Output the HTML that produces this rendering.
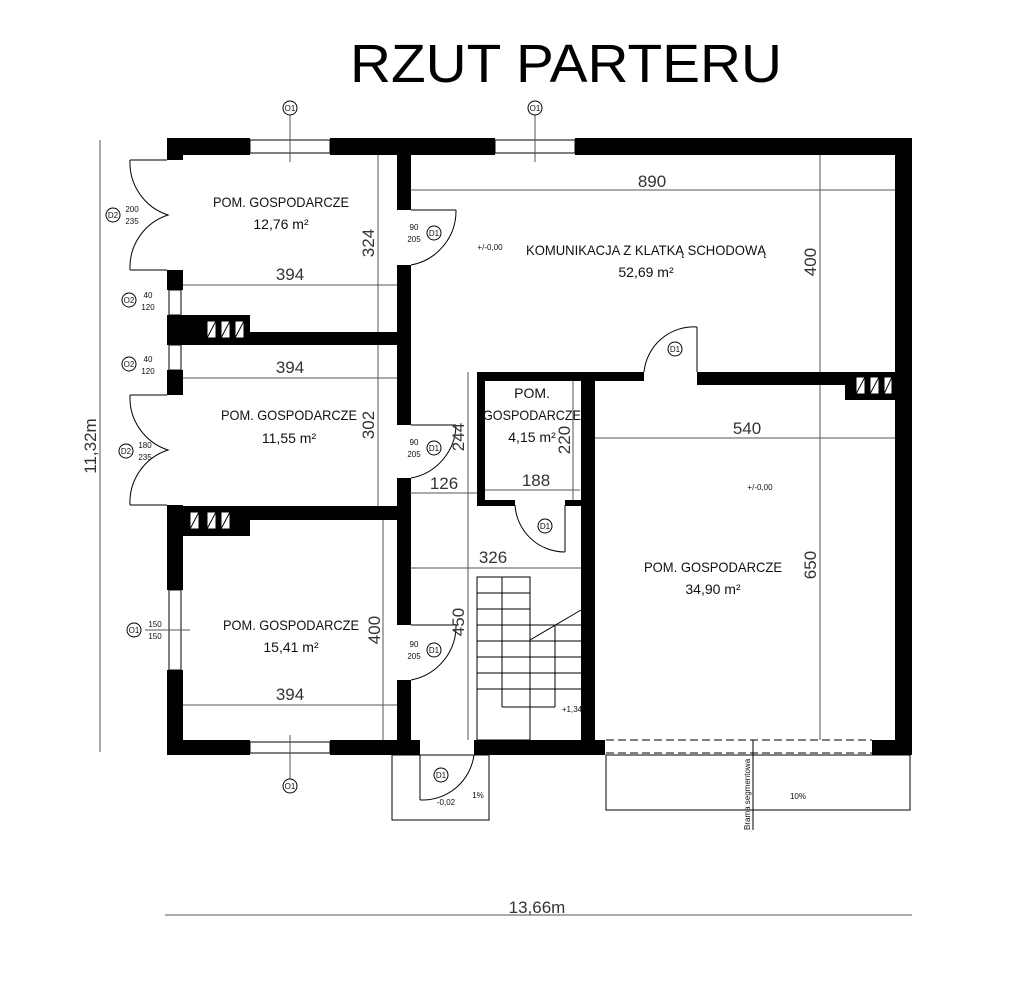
<!DOCTYPE html>
<html><head><meta charset="utf-8"><style>
html,body{margin:0;padding:0;background:#fff;}
svg{display:block;font-family:"Liberation Sans",sans-serif;}
.t{font-size:14px;fill:#111;}
.d{font-size:17px;fill:#333;}
.s{font-size:8px;fill:#111;}
</style></head><body>
<svg width="1032" height="991" viewBox="0 0 1032 991" xmlns="http://www.w3.org/2000/svg">
<text x="566" y="82" font-size="54" text-anchor="middle" fill="#000" textLength="432" lengthAdjust="spacingAndGlyphs">RZUT PARTERU</text>

<g fill="#000">
<rect x="167" y="138" width="83" height="17"/>
<rect x="330" y="138" width="165" height="17"/>
<rect x="575" y="138" width="337" height="17"/>
<rect x="895" y="138" width="17" height="615"/>
<rect x="167" y="138" width="16" height="22"/>
<rect x="167" y="270" width="16" height="20"/>
<rect x="167" y="315" width="16" height="30"/>
<rect x="167" y="370" width="16" height="25"/>
<rect x="167" y="505" width="16" height="85"/>
<rect x="167" y="670" width="16" height="85"/>
<rect x="167" y="315" width="83" height="30"/>
<rect x="183" y="332" width="227" height="13"/>
<rect x="167" y="506" width="83" height="30"/>
<rect x="183" y="506" width="227" height="14"/>
<rect x="397" y="155" width="14" height="55"/>
<rect x="397" y="265" width="14" height="160"/>
<rect x="397" y="478" width="14" height="147"/>
<rect x="397" y="680" width="14" height="75"/>
<rect x="167" y="740" width="83" height="15"/>
<rect x="330" y="740" width="90" height="15"/>
<rect x="474" y="740" width="131" height="15"/>
<rect x="872" y="740" width="40" height="15"/>
<rect x="477" y="372" width="8" height="134"/>
<rect x="477" y="372" width="167" height="9"/>
<rect x="477" y="500" width="38" height="6"/>
<rect x="565" y="500" width="17" height="6"/>
<rect x="697" y="372" width="198" height="13"/>
<rect x="581" y="378" width="14" height="375"/>
<rect x="845" y="372" width="50" height="28"/>
</g>

<g fill="#fff" stroke="#000" stroke-width="1">
<rect x="207" y="321" width="9" height="17"/><rect x="221" y="321" width="9" height="17"/><rect x="235" y="321" width="9" height="17"/>
<rect x="190" y="512" width="9" height="17"/><rect x="207" y="512" width="9" height="17"/><rect x="221" y="512" width="9" height="17"/>
<rect x="856" y="377" width="9" height="17"/><rect x="870" y="377" width="9" height="17"/><rect x="884" y="377" width="8" height="17"/>
</g>
<g stroke="#000" stroke-width="1">
<line x1="207" y1="338" x2="216" y2="321"/><line x1="221" y1="338" x2="230" y2="321"/><line x1="235" y1="338" x2="244" y2="321"/>
<line x1="190" y1="529" x2="199" y2="512"/><line x1="207" y1="529" x2="216" y2="512"/><line x1="221" y1="529" x2="230" y2="512"/>
<line x1="856" y1="394" x2="865" y2="377"/><line x1="870" y1="394" x2="879" y2="377"/><line x1="884" y1="394" x2="892" y2="377"/>
</g>

<g fill="#fff" stroke="#000" stroke-width="1">
<rect x="250" y="140" width="80" height="13"/><rect x="495" y="140" width="80" height="13"/>
<rect x="250" y="742" width="80" height="11"/>
<rect x="169" y="590" width="12" height="80"/>
<rect x="169" y="290" width="12" height="25"/><rect x="169" y="345" width="12" height="25"/>
</g>
<g stroke="#000" stroke-width="1" fill="none" stroke-dasharray="8,4">
<line x1="606" y1="740" x2="872" y2="740"/><line x1="606" y1="753" x2="872" y2="753"/>
</g>

<g stroke="#000" stroke-width="1" fill="none">
<line x1="130" y1="160" x2="167" y2="160"/><line x1="130" y1="270" x2="167" y2="270"/>
<path d="M130,160 A55,55 0 0 0 168,215 A55,55 0 0 0 130,270"/>
<line x1="130" y1="395" x2="167" y2="395"/><line x1="130" y1="505" x2="167" y2="505"/>
<path d="M130,395 A55,55 0 0 0 168,450 A55,55 0 0 0 130,505"/>
<line x1="411" y1="210" x2="456" y2="210"/><path d="M456,210 A55,55 0 0 1 411,265"/>
<line x1="411" y1="425" x2="456" y2="425"/><path d="M456,425 A55,55 0 0 1 411,478"/>
<line x1="411" y1="625" x2="456" y2="625"/><path d="M456,625 A55,55 0 0 1 411,680"/>
<line x1="697" y1="327" x2="697" y2="372"/><path d="M697,327 A50,50 0 0 0 644,372"/>
<line x1="565" y1="505" x2="565" y2="552"/><path d="M515,505 A50,50 0 0 0 565,552"/>
<line x1="420" y1="755" x2="420" y2="800"/><path d="M474,755 A52,52 0 0 1 420,800"/>
<rect x="392" y="755" width="97" height="65"/>
<rect x="606" y="755" width="304" height="55"/>
<line x1="753" y1="740" x2="753" y2="830"/>
<rect x="477" y="577" width="53" height="163"/>
<line x1="502" y1="577" x2="502" y2="707"/><line x1="502" y1="707" x2="555" y2="707"/><line x1="555" y1="707" x2="555" y2="625"/>
<line x1="530" y1="640" x2="581" y2="610"/>
</g>
<g stroke="#000" stroke-width="1">
<line x1="477" y1="593" x2="530" y2="593"/><line x1="477" y1="609" x2="530" y2="609"/><line x1="477" y1="625" x2="530" y2="625"/>
<line x1="477" y1="641" x2="581" y2="641"/><line x1="477" y1="657" x2="581" y2="657"/><line x1="477" y1="673" x2="581" y2="673"/>
<line x1="477" y1="689" x2="581" y2="689"/><line x1="530" y1="625" x2="581" y2="625"/>
</g>

<g stroke="#555" stroke-width="1">
<line x1="410" y1="190" x2="895" y2="190"/>
<line x1="820" y1="155" x2="820" y2="372"/>
<line x1="378" y1="155" x2="378" y2="332"/>
<line x1="183" y1="285" x2="397" y2="285"/>
<line x1="183" y1="378" x2="397" y2="378"/>
<line x1="378" y1="345" x2="378" y2="506"/>
<line x1="468" y1="372" x2="468" y2="740"/>
<line x1="410" y1="493" x2="477" y2="493"/>
<line x1="485" y1="490" x2="580" y2="490"/>
<line x1="573" y1="381" x2="573" y2="500"/>
<line x1="595" y1="438" x2="895" y2="438"/>
<line x1="820" y1="385" x2="820" y2="740"/>
<line x1="410" y1="568" x2="581" y2="568"/>
<line x1="383" y1="520" x2="383" y2="740"/>
<line x1="183" y1="705" x2="397" y2="705"/>
<line x1="100" y1="140" x2="100" y2="752"/>
<line x1="165" y1="915" x2="912" y2="915"/>
<line x1="290" y1="115" x2="290" y2="162"/><line x1="535" y1="115" x2="535" y2="162"/>
<line x1="290" y1="735" x2="290" y2="780"/>
<line x1="145" y1="630" x2="190" y2="630"/>
</g>

<g class="d" text-anchor="middle">
<text x="652" y="187">890</text>
<text x="290" y="280">394</text><text x="290" y="373">394</text><text x="290" y="700">394</text>
<text x="444" y="489">126</text><text x="536" y="486">188</text>
<text x="747" y="434">540</text><text x="493" y="563">326</text>
<text x="537" y="913">13,66m</text>
<text transform="translate(374,243) rotate(-90)">324</text>
<text transform="translate(374,425) rotate(-90)">302</text>
<text transform="translate(380,630) rotate(-90)">400</text>
<text transform="translate(816,262) rotate(-90)">400</text>
<text transform="translate(816,565) rotate(-90)">650</text>
<text transform="translate(464,437) rotate(-90)">244</text>
<text transform="translate(464,622) rotate(-90)">450</text>
<text transform="translate(570,440) rotate(-90)">220</text>
<text transform="translate(96,446) rotate(-90)">11,32m</text>
</g>

<g class="t" text-anchor="middle" lengthAdjust="spacingAndGlyphs">
<text x="281" y="207" textLength="136" lengthAdjust="spacingAndGlyphs">POM. GOSPODARCZE</text><text x="281" y="229">12,76 m²</text>
<text x="646" y="255" textLength="240" lengthAdjust="spacingAndGlyphs">KOMUNIKACJA Z KLATKĄ SCHODOWĄ</text><text x="646" y="277">52,69 m²</text>
<text x="289" y="420" textLength="136" lengthAdjust="spacingAndGlyphs">POM. GOSPODARCZE</text><text x="289" y="443">11,55 m²</text>
<text x="532" y="398">POM.</text><text x="532" y="420" textLength="98" lengthAdjust="spacingAndGlyphs">GOSPODARCZE</text><text x="532" y="442">4,15 m²</text>
<text x="713" y="572" textLength="138" lengthAdjust="spacingAndGlyphs">POM. GOSPODARCZE</text><text x="713" y="594">34,90 m²</text>
<text x="291" y="630" textLength="136" lengthAdjust="spacingAndGlyphs">POM. GOSPODARCZE</text><text x="291" y="652">15,41 m²</text>
</g>

<g stroke="#000" fill="#fff" stroke-width="1">
<circle cx="290" cy="108" r="7"/><circle cx="535" cy="108" r="7"/><circle cx="290" cy="786" r="7"/>
<circle cx="113" cy="215" r="7"/><circle cx="129" cy="300" r="7"/><circle cx="129" cy="364" r="7"/>
<circle cx="126" cy="451" r="7"/><circle cx="134" cy="630" r="7"/>
<circle cx="434" cy="233" r="7"/><circle cx="434" cy="448" r="7"/><circle cx="434" cy="650" r="7"/>
<circle cx="675" cy="349" r="7"/><circle cx="545" cy="526" r="7"/><circle cx="441" cy="775" r="7"/>
</g>
<g class="s" text-anchor="middle">
<text x="290" y="111">O1</text><text x="535" y="111">O1</text><text x="290" y="789">O1</text>
<text x="113" y="218">D2</text><text x="129" y="303">O2</text><text x="129" y="367">O2</text>
<text x="126" y="454">D2</text><text x="134" y="633">O1</text>
<text x="434" y="236">D1</text><text x="434" y="451">D1</text><text x="434" y="653">D1</text>
<text x="675" y="352">D1</text><text x="545" y="529">D1</text><text x="441" y="778">D1</text>
<text x="132" y="212">200</text><text x="132" y="224">235</text>
<text x="148" y="298">40</text><text x="148" y="310">120</text>
<text x="148" y="362">40</text><text x="148" y="374">120</text>
<text x="145" y="448">180</text><text x="145" y="460">235</text>
<text x="155" y="627">150</text><text x="155" y="639">150</text>
<text x="414" y="230">90</text><text x="414" y="242">205</text>
<text x="414" y="445">90</text><text x="414" y="457">205</text>
<text x="414" y="647">90</text><text x="414" y="659">205</text>
<text transform="translate(750,830) rotate(-90)" text-anchor="start">Brama segmentowa</text>
<text x="798" y="799">10%</text><text x="478" y="798">1%</text>
<text x="490" y="250">+/-0,00</text><text x="760" y="490">+/-0,00</text>
<text x="572" y="712">+1,34</text><text x="446" y="805">-0,02</text>
</g>
</svg>
</body></html>
